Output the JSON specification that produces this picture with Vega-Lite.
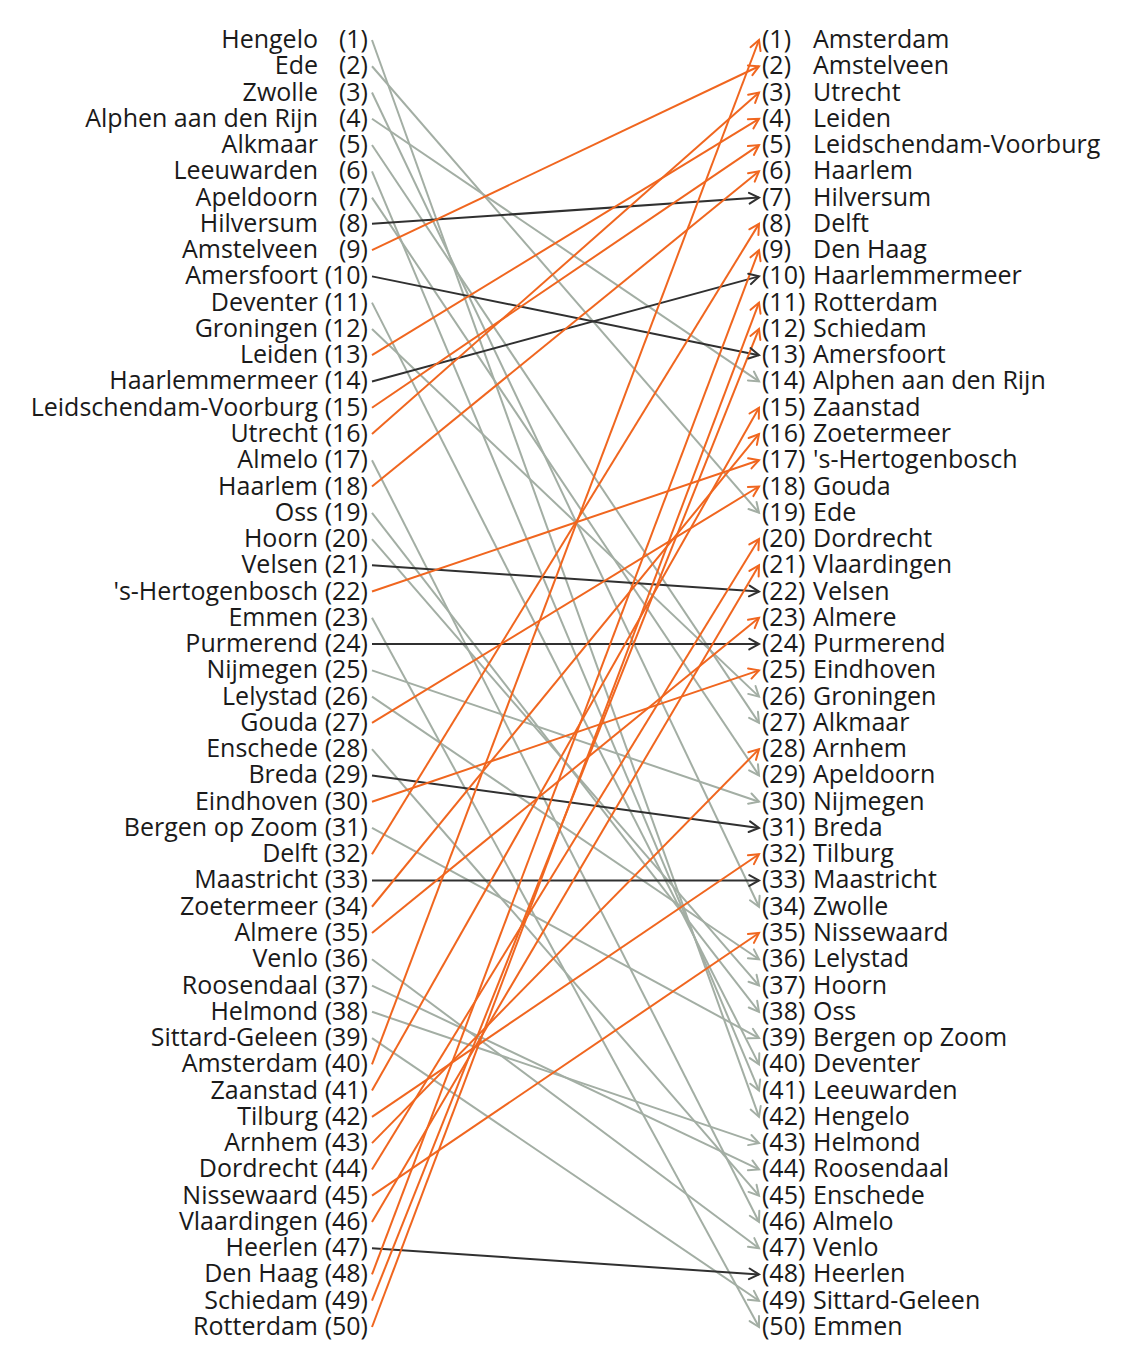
{
  "$schema": "https://vega.github.io/schema/vega-lite/v6.json",
  "width": 1130,
  "height": 1358,
  "autosize": {"type": "fit", "contains": "padding"},
  "padding": 0,
  "background": "white",
  "config": {"view": {"stroke": null}},
  "data": {"values": [
    {"city": "Hengelo", "before": 1, "after": 42, "change": -41},
    {"city": "Ede", "before": 2, "after": 19, "change": -17},
    {"city": "Zwolle", "before": 3, "after": 34, "change": -31},
    {"city": "Alphen aan den Rijn", "before": 4, "after": 14, "change": -10},
    {"city": "Alkmaar", "before": 5, "after": 27, "change": -22},
    {"city": "Leeuwarden", "before": 6, "after": 41, "change": -35},
    {"city": "Apeldoorn", "before": 7, "after": 29, "change": -22},
    {"city": "Hilversum", "before": 8, "after": 7, "change": 1},
    {"city": "Amstelveen", "before": 9, "after": 2, "change": 7},
    {"city": "Amersfoort", "before": 10, "after": 13, "change": -3},
    {"city": "Deventer", "before": 11, "after": 40, "change": -29},
    {"city": "Groningen", "before": 12, "after": 26, "change": -14},
    {"city": "Leiden", "before": 13, "after": 4, "change": 9},
    {"city": "Haarlemmermeer", "before": 14, "after": 10, "change": 4},
    {"city": "Leidschendam-Voorburg", "before": 15, "after": 5, "change": 10},
    {"city": "Utrecht", "before": 16, "after": 3, "change": 13},
    {"city": "Almelo", "before": 17, "after": 46, "change": -29},
    {"city": "Haarlem", "before": 18, "after": 6, "change": 12},
    {"city": "Oss", "before": 19, "after": 38, "change": -19},
    {"city": "Hoorn", "before": 20, "after": 37, "change": -17},
    {"city": "Velsen", "before": 21, "after": 22, "change": -1},
    {"city": "'s-Hertogenbosch", "before": 22, "after": 17, "change": 5},
    {"city": "Emmen", "before": 23, "after": 50, "change": -27},
    {"city": "Purmerend", "before": 24, "after": 24, "change": 0},
    {"city": "Nijmegen", "before": 25, "after": 30, "change": -5},
    {"city": "Lelystad", "before": 26, "after": 36, "change": -10},
    {"city": "Gouda", "before": 27, "after": 18, "change": 9},
    {"city": "Enschede", "before": 28, "after": 45, "change": -17},
    {"city": "Breda", "before": 29, "after": 31, "change": -2},
    {"city": "Eindhoven", "before": 30, "after": 25, "change": 5},
    {"city": "Bergen op Zoom", "before": 31, "after": 39, "change": -8},
    {"city": "Delft", "before": 32, "after": 8, "change": 24},
    {"city": "Maastricht", "before": 33, "after": 33, "change": 0},
    {"city": "Zoetermeer", "before": 34, "after": 16, "change": 18},
    {"city": "Almere", "before": 35, "after": 23, "change": 12},
    {"city": "Venlo", "before": 36, "after": 47, "change": -11},
    {"city": "Roosendaal", "before": 37, "after": 44, "change": -7},
    {"city": "Helmond", "before": 38, "after": 43, "change": -5},
    {"city": "Sittard-Geleen", "before": 39, "after": 49, "change": -10},
    {"city": "Amsterdam", "before": 40, "after": 1, "change": 39},
    {"city": "Zaanstad", "before": 41, "after": 15, "change": 26},
    {"city": "Tilburg", "before": 42, "after": 32, "change": 10},
    {"city": "Arnhem", "before": 43, "after": 28, "change": 15},
    {"city": "Dordrecht", "before": 44, "after": 20, "change": 24},
    {"city": "Nissewaard", "before": 45, "after": 35, "change": 10},
    {"city": "Vlaardingen", "before": 46, "after": 21, "change": 25},
    {"city": "Heerlen", "before": 47, "after": 48, "change": -1},
    {"city": "Den Haag", "before": 48, "after": 9, "change": 39},
    {"city": "Schiedam", "before": 49, "after": 12, "change": 37},
    {"city": "Rotterdam", "before": 50, "after": 11, "change": 39}
  ]},
  "layer": [
    {
      "mark": {"type": "rule", "strokeWidth": 2},
      "encoding": {
        "x": {"datum": 0, "type": "quantitative", "scale": {"domain": [0, 1], "range": [372, 759], "zero": false, "nice": false}, "axis": null},
        "x2": {"datum": 1},
        "y": {"field": "before", "type": "quantitative", "scale": {"domain": [1, 50], "range": [40, 1327], "zero": false, "nice": false}, "axis": null},
        "y2": {"field": "after"},
        "color": {"field": "change", "type": "quantitative", "scale": {"type": "threshold", "domain": [-4.5, 4.5], "range": ["#a3aea4", "#303030", "#f0661f"]}, "legend": null}
      }
    },
    {
      "mark": {"type": "point", "filled": false, "opacity": 1, "size": 380, "shape": "M-1,-0.55L0,0L-1,0.55", "strokeWidth": 2, "strokeCap": "round", "strokeJoin": "miter"},
      "encoding": {
        "x": {"datum": 1, "type": "quantitative", "scale": {"domain": [0, 1], "range": [372, 759], "zero": false, "nice": false}, "axis": null},
        "y": {"field": "after", "type": "quantitative", "scale": {"domain": [1, 50], "range": [40, 1327], "zero": false, "nice": false}, "axis": null},
        "color": {"field": "change", "type": "quantitative", "scale": {"type": "threshold", "domain": [-4.5, 4.5], "range": ["#a3aea4", "#303030", "#f0661f"]}, "legend": null},
        "angle": {"field": "change", "type": "quantitative", "legend": null, "scale": {"domain": [-45, -40, -35, -30, -25, -20, -15, -10, -5, 0, 5, 10, 15, 20, 25, 30, 35, 40, 45], "range": [71.74, 69.64, 67.02, 63.67, 59.3, 53.41, 45.3, 33.96, 18.61, 0, -18.61, -33.96, -45.3, -53.41, -59.3, -63.67, -67.02, -69.64, -71.74]}}
      }
    },
    {
      "mark": {"type": "text", "align": "right", "baseline": "middle", "dx": -54, "font": "Open Sans", "fontSize": 25, "color": "#1a1a1a"},
      "encoding": {
        "x": {"datum": 0, "type": "quantitative", "scale": {"domain": [0, 1], "range": [372, 759], "zero": false, "nice": false}, "axis": null},
        "y": {"field": "before", "type": "quantitative", "scale": {"domain": [1, 50], "range": [40, 1327], "zero": false, "nice": false}, "axis": null},
        "text": {"field": "city"}
      }
    },
    {
      "mark": {"type": "text", "align": "right", "baseline": "middle", "dx": -4, "font": "Open Sans", "fontSize": 25, "color": "#1a1a1a", "text": {"expr": "'(' + datum.before + ')'"}},
      "encoding": {
        "x": {"datum": 0, "type": "quantitative", "scale": {"domain": [0, 1], "range": [372, 759], "zero": false, "nice": false}, "axis": null},
        "y": {"field": "before", "type": "quantitative", "scale": {"domain": [1, 50], "range": [40, 1327], "zero": false, "nice": false}, "axis": null}
      }
    },
    {
      "mark": {"type": "text", "align": "left", "baseline": "middle", "dx": 3, "font": "Open Sans", "fontSize": 25, "color": "#1a1a1a", "text": {"expr": "'(' + datum.after + ')'"}},
      "encoding": {
        "x": {"datum": 1, "type": "quantitative", "scale": {"domain": [0, 1], "range": [372, 759], "zero": false, "nice": false}, "axis": null},
        "y": {"field": "after", "type": "quantitative", "scale": {"domain": [1, 50], "range": [40, 1327], "zero": false, "nice": false}, "axis": null}
      }
    },
    {
      "mark": {"type": "text", "align": "left", "baseline": "middle", "dx": 54, "font": "Open Sans", "fontSize": 25, "color": "#1a1a1a"},
      "encoding": {
        "x": {"datum": 1, "type": "quantitative", "scale": {"domain": [0, 1], "range": [372, 759], "zero": false, "nice": false}, "axis": null},
        "y": {"field": "after", "type": "quantitative", "scale": {"domain": [1, 50], "range": [40, 1327], "zero": false, "nice": false}, "axis": null},
        "text": {"field": "city"}
      }
    }
  ]
}
